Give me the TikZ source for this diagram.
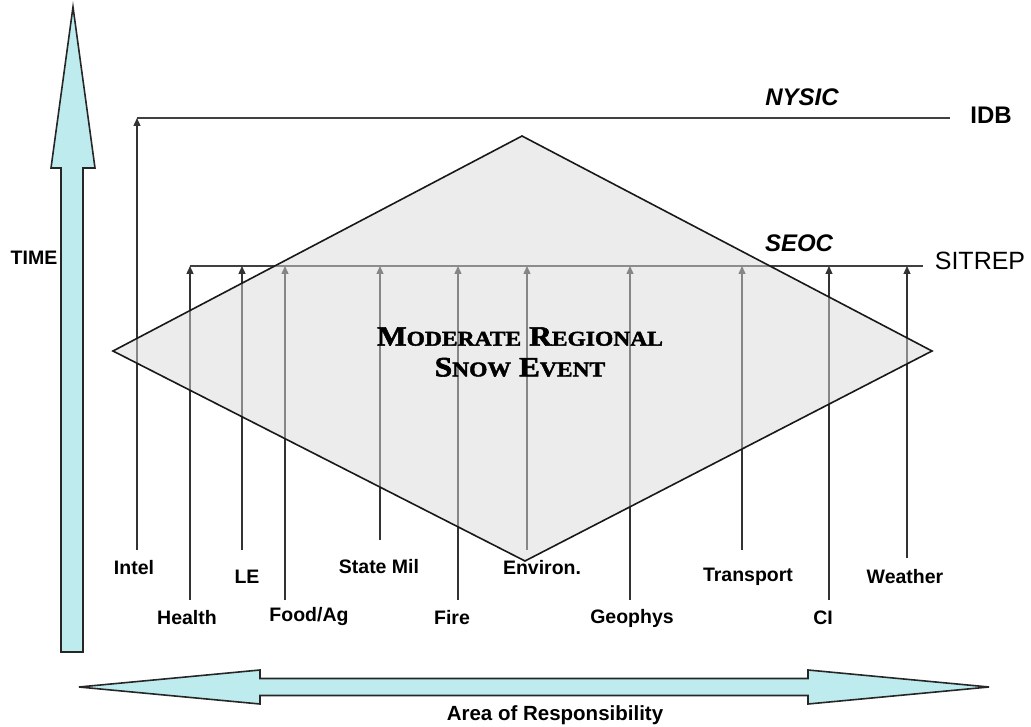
\documentclass[tikz,border=0pt]{standalone}
\usepackage{fontspec}
\setmainfont{Liberation Sans}
\newfontfamily\cpfont[FakeStretch=1.12, BoldFeatures={FakeBold=2}]{Liberation Serif}
\usetikzlibrary{arrows.meta}
\definecolor{aqua}{RGB}{190,236,238}
\tikzset{
  bigarrow/.style={fill=aqua, draw=black!85, line width=1.6pt, line join=miter},
  flow/.style={draw=black!80, line width=1.3pt, -{Triangle[length=8pt,width=7pt]}},
  hline/.style={draw=black!75, line width=1.4pt},
  lbl/.style={font=\fontsize{19.5}{21}\selectfont\bfseries, inner sep=0pt},
  big/.style={font=\fontsize{24}{26}\selectfont, inner sep=0pt},
  diam/.style={draw=black!90, line width=1.6pt, fill=black!15, fill opacity=0.5, line join=miter},
}
\newcommand{\cpsc}[2]{{\fontsize{28}{30}\selectfont #1}{\fontsize{21}{23}\selectfont #2}}
\begin{document}
\begin{tikzpicture}[x=1pt,y=-1pt]
\useasboundingbox (0,0) rectangle (1031,727);
% big arrows
\draw[bigarrow] (73,7) -- (95,168) -- (83,168) -- (83,652) -- (61,652) -- (61,168) -- (51,168) -- cycle;
\draw[bigarrow] (79,687) -- (260,670) -- (260,678.5) -- (808,678.5) -- (808,670) -- (989,687)
  -- (808,704) -- (808,695.5) -- (260,695.5) -- (260,704) -- cycle;
\node[lbl] (time) at (34,258) {TIME};
\node[lbl, font=\fontsize{20.5}{22}\selectfont\bfseries] (aor) at (555,715) {Area of Responsibility};
% horizontal lines
\coordinate (nysicL) at (137,118);
\coordinate (nysicR) at (950,118);
\coordinate (seocL) at (190,266);
\coordinate (seocR) at (923,266);
\draw[hline] (nysicL) -- (nysicR);
\draw[hline] (seocL) -- (seocR);
\node[big, font=\fontsize{24}{26}\selectfont\bfseries\itshape] (nysic) at (802,97) {NYSIC};
\node[big, font=\fontsize{24}{26}\selectfont\bfseries] (idb) at (991,115) {IDB};
\node[big, font=\fontsize{24}{26}\selectfont\bfseries\itshape] (seoc) at (799,243) {SEOC};
\node[big, font=\fontsize{25}{27}\selectfont] (sitrep) at (980,261) {SITREP};
% labels
\node[lbl] (intel) at (134,568) {Intel};
\node[lbl] (health) at (187,618) {Health};
\node[lbl] (le) at (247,577) {LE};
\node[lbl] (food) at (309,616) {Food/Ag};
\node[lbl] (statemil) at (379,567) {State Mil};
\node[lbl] (fire) at (452,618) {Fire};
\node[lbl] (geophys) at (632,618) {Geophys};
\node[lbl] (transport) at (748,577) {Transport};
\node[lbl] (ci) at (823,618) {CI};
\node[lbl] (weather) at (905,577) {Weather};
% arrows
\coordinate (intelB) at (137,550);
\coordinate (healthB) at (190,600);  \coordinate (healthT) at (190,266);
\coordinate (leB) at (242,550);      \coordinate (leT) at (242,266);
\coordinate (foodB) at (285,600);    \coordinate (foodT) at (285,266);
\coordinate (smB) at (380,540);      \coordinate (smT) at (380,266);
\coordinate (fireB) at (458,600);    \coordinate (fireT) at (458,266);
\coordinate (envB) at (527,550);     \coordinate (envT) at (527,266);
\coordinate (geoB) at (630,600);     \coordinate (geoT) at (630,266);
\coordinate (trB) at (742,550);      \coordinate (trT) at (742,266);
\coordinate (ciB) at (829,600);      \coordinate (ciT) at (829,266);
\coordinate (wB) at (907,558);       \coordinate (wT) at (907,266);
\draw[flow] (intelB) -- (nysicL);
\draw[flow] (healthB) -- (healthT);
\draw[flow] (leB) -- (leT);
\draw[flow] (foodB) -- (foodT);
\draw[flow] (smB) -- (smT);
\draw[flow] (fireB) -- (fireT);
\draw[flow] (envB) -- (envT);
\draw[flow] (geoB) -- (geoT);
\draw[flow] (trB) -- (trT);
\draw[flow] (ciB) -- (ciT);
\draw[flow] (wB) -- (wT);
% diamond
\draw[diam] (522,136) -- (932,351) -- (525,561) -- (113,351) -- cycle;
\node[inner sep=0pt, align=center, font=\cpfont\bfseries] (event) at (520,352)
  {\cpsc{M}{ODERATE}\hspace{8pt}\cpsc{R}{EGIONAL}\\[11pt] \cpsc{S}{NOW}\hspace{8pt}\cpsc{E}{VENT}};
\node[lbl] (env) at (542,568) {Environ.};
\end{tikzpicture}
\end{document}
